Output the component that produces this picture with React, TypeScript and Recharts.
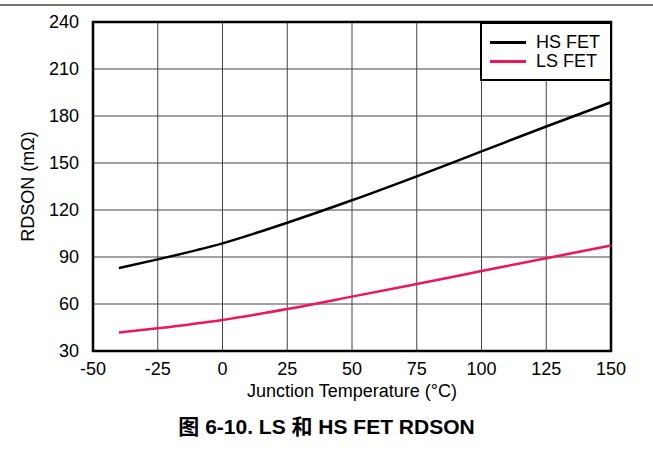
import React from 'react'
import {
  LineChart, Line, XAxis, YAxis, CartesianGrid, ReferenceArea,
} from 'recharts'

const temps = [-40, -25, 0, 25, 50, 75, 100, 125, 150]
const hsFet = [83, 88.5, 98.7, 111.9, 126.2, 141.5, 157.4, 173.3, 188.8]
const lsFet = [41.8, 44.5, 49.8, 56.8, 64.7, 72.8, 81, 89.2, 97.3]

const xTicks = [-50, -25, 0, 25, 50, 75, 100, 125, 150]
const yTicks = [30, 60, 90, 120, 150, 180, 210, 240]

const seriesNames = ['HS FET', 'LS FET']
const HS_COLOR = '#000000'
const LS_COLOR = '#F0145A'
const FONT = '"Liberation Sans", Arial, sans-serif'
const CJK = '"Noto Sans CJK SC", sans-serif'

const chartData = temps.map((t, i) => ({ t, hs: hsFet[i], ls: lsFet[i] }))

// legend sits inside the plot's top-right corner, like the datasheet figure
function LegendBox() {
  const colors = [HS_COLOR, LS_COLOR]
  return (
    <div style={{
      position: 'absolute', left: 480, top: 22, width: 128, height: 55,
      border: '2px solid #000', background: '#fff', fontFamily: FONT,
    }}>
      {seriesNames.map((name, i) => (
        <div key={name} style={{ display: 'flex', alignItems: 'center', height: 19, marginTop: i === 0 ? 9 : 0 }}>
          <div style={{ width: 36, height: 2.5, background: colors[i], marginLeft: 8, marginRight: 10 }} />
          <span style={{ fontSize: 18, color: '#000', lineHeight: '19px' }}>{name}</span>
        </div>
      ))}
    </div>
  )
}

export default function App() {
  return (
    <div style={{
      position: 'fixed', left: 0, top: 0, width: 653, height: 470,
      background: '#fff', fontFamily: FONT,
    }}>
      <div style={{ position: 'absolute', left: 0, top: 4, width: 653, height: 2, background: '#777' }} />
      <LineChart
        width={653}
        height={470}
        data={chartData}
        margin={{ top: 22, right: 42, bottom: 89, left: 0 }}
      >
        <CartesianGrid stroke="#444" strokeWidth={1} />
        <XAxis
          dataKey="t"
          type="number"
          domain={[-50, 150]}
          ticks={xTicks}
          tick={{ fill: '#000', fontSize: 18, fontFamily: FONT }}
          tickLine={false}
          axisLine={false}
          height={30}
          tickMargin={5}
          label={{ value: 'Junction Temperature (°C)', position: 'insideBottom', offset: -16, fill: '#000', fontSize: 18, fontFamily: FONT }}
        />
        <YAxis
          type="number"
          domain={[30, 240]}
          ticks={yTicks}
          width={93}
          tick={{ fill: '#000', fontSize: 18, fontFamily: FONT }}
          tickLine={false}
          axisLine={false}
          tickMargin={8}
          label={{ value: 'RDSON (mΩ)', angle: -90, position: 'insideLeft', offset: 28, fill: '#000', fontSize: 18, fontFamily: FONT, style: { textAnchor: 'middle' } }}
        />
        <ReferenceArea x1={-50} x2={150} y1={30} y2={240} fill="none" stroke="#000" strokeWidth={2.5} ifOverflow="visible" />
        <Line dataKey="hs" name={seriesNames[0]} type="monotone" stroke={HS_COLOR} strokeWidth={2.5} dot={false} isAnimationActive={false} />
        <Line dataKey="ls" name={seriesNames[1]} type="monotone" stroke={LS_COLOR} strokeWidth={2.5} dot={false} isAnimationActive={false} />
      </LineChart>
      <LegendBox />
      <div style={{
        position: 'absolute', left: 0, top: 410, width: 653, textAlign: 'center',
        fontSize: 21, fontWeight: 'bold', color: '#000', fontFamily: FONT,
      }}>
        <span style={{ fontFamily: CJK }}>图</span> 6-10. LS <span style={{ fontFamily: CJK }}>和</span> HS FET RDSON
      </div>
    </div>
  )
}
